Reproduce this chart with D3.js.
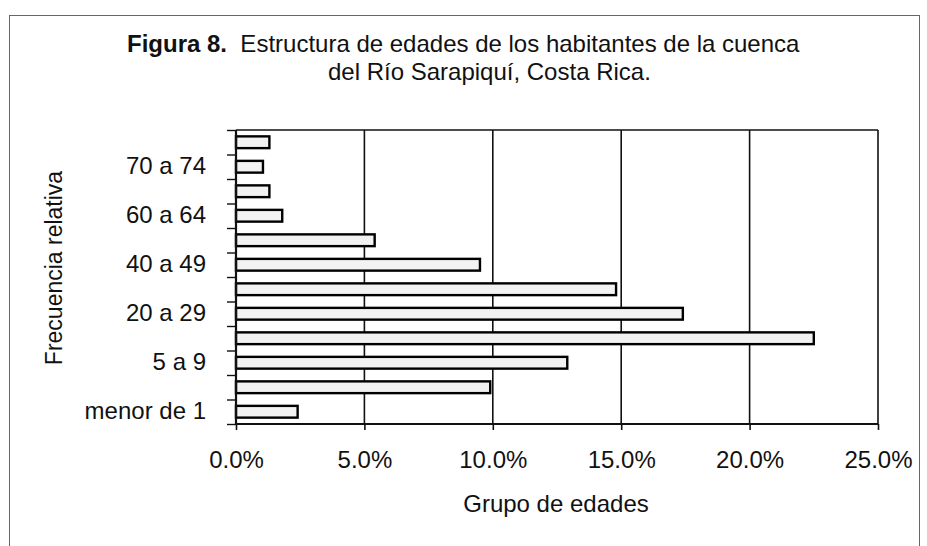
<!DOCTYPE html>
<html>
<head>
<meta charset="utf-8">
<script src="https://cdn.jsdelivr.net/npm/d3@7"></script>
<style>
  body { margin: 0; background: #fff; }
  text { font-family: "Liberation Sans", Arial, sans-serif; fill: #111; }
  .domain { display: none; }
</style>
</head>
<body>
<div id="chart"></div>
<script>
const grupos = ["menor de 1", "1 a 4", "5 a 9", "10 a 19", "20 a 29", "30 a 39", "40 a 49", "50 a 59", "60 a 64", "65 a 69", "70 a 74", "75 y más"];
const frecuencias = [2.4, 9.9, 12.9, 22.5, 17.4, 14.8, 9.5, 5.4, 1.8, 1.3, 1.05, 1.3];
const etiquetasVisibles = ["menor de 1", "5 a 9", "20 a 29", "40 a 49", "60 a 64", "70 a 74"];
const ticksX = [0, 5, 10, 15, 20, 25];

const width = 927;
const height = 546;
const plot = { left: 236, right: 878, top: 130, bottom: 424 };

const svg = d3.select("#chart").append("svg").attr("width", width).attr("height", height);

// marco de la figura escaneada
svg.append("rect").attr("x", 9.5).attr("y", 15.5).attr("width", 910).attr("height", 560)
  .attr("fill", "none").attr("stroke", "#666").attr("stroke-width", 1);

const xScale = d3.scaleLinear().domain([0, 25]).range([plot.left, plot.right]);
const yScale = d3.scaleBand().domain(grupos).range([plot.bottom, plot.top]).paddingInner(0.52).paddingOuter(0.26);
const yIdx = d3.scaleLinear().domain([0, grupos.length]).range([plot.bottom, plot.top]);

// lineas de division
svg.append("g").selectAll("line").data(ticksX.slice(1)).enter().append("line")
  .attr("x1", d => xScale(d)).attr("x2", d => xScale(d))
  .attr("y1", plot.top).attr("y2", plot.bottom)
  .attr("stroke", "#111").attr("stroke-width", 1.6);
svg.append("line").attr("x1", plot.left).attr("x2", plot.right).attr("y1", plot.top).attr("y2", plot.top)
  .attr("stroke", "#111").attr("stroke-width", 1.6);

// barras
svg.append("g").selectAll("rect").data(grupos).enter().append("rect")
  .attr("x", xScale(0))
  .attr("y", d => yScale(d))
  .attr("width", (d, i) => xScale(frecuencias[i]) - xScale(0))
  .attr("height", yScale.bandwidth())
  .attr("fill", "#f2f2f2").attr("stroke", "#000").attr("stroke-width", 2.4);

// eje x
const xAxis = d3.axisBottom(xScale).tickValues(ticksX).tickSize(6).tickPadding(21)
  .tickFormat(d => d.toFixed(1) + "%");
const gx = svg.append("g").attr("transform", `translate(0,${plot.bottom})`).call(xAxis);
gx.selectAll("text").attr("font-size", 24).attr("font-family", "Liberation Sans, Arial, sans-serif");
gx.selectAll(".tick line").attr("stroke", "#111").attr("stroke-width", 1.6);
svg.append("line").attr("x1", plot.left).attr("x2", plot.right).attr("y1", plot.bottom).attr("y2", plot.bottom)
  .attr("stroke", "#111").attr("stroke-width", 2.2);

// eje y: marcas en los limites de cada grupo
const gyTicks = svg.append("g").attr("transform", `translate(${plot.left},0)`)
  .call(d3.axisLeft(yIdx).tickValues(d3.range(grupos.length + 1)).tickSize(9).tickFormat(""));
gyTicks.selectAll(".tick line").attr("stroke", "#111").attr("stroke-width", 1.4);
svg.append("line").attr("x1", plot.left).attr("x2", plot.left).attr("y1", plot.top).attr("y2", plot.bottom)
  .attr("stroke", "#111").attr("stroke-width", 2.2);

const gy = svg.append("g").attr("transform", `translate(${plot.left},0)`)
  .call(d3.axisLeft(yScale).tickSize(0).tickPadding(30)
    .tickFormat(d => etiquetasVisibles.includes(d) ? d : ""));
gy.selectAll("text").attr("font-size", 24).attr("font-family", "Liberation Sans, Arial, sans-serif");

// titulos
const titulo = svg.append("text").attr("x", 127).attr("y", 52).attr("font-size", 24);
titulo.append("tspan").attr("font-weight", "bold").text("Figura 8.");
titulo.append("tspan").attr("xml:space", "preserve").text("  Estructura de edades de los habitantes de la cuenca");
svg.append("text").attr("x", 328).attr("y", 80).attr("font-size", 24).text("del Río Sarapiquí, Costa Rica.");

svg.append("text").attr("x", 556).attr("y", 512).attr("text-anchor", "middle").attr("font-size", 24)
  .text("Grupo de edades");
svg.append("text").attr("transform", "translate(62,268) rotate(-90)").attr("text-anchor", "middle")
  .attr("font-size", 23).text("Frecuencia relativa");
</script>
</body>
</html>
